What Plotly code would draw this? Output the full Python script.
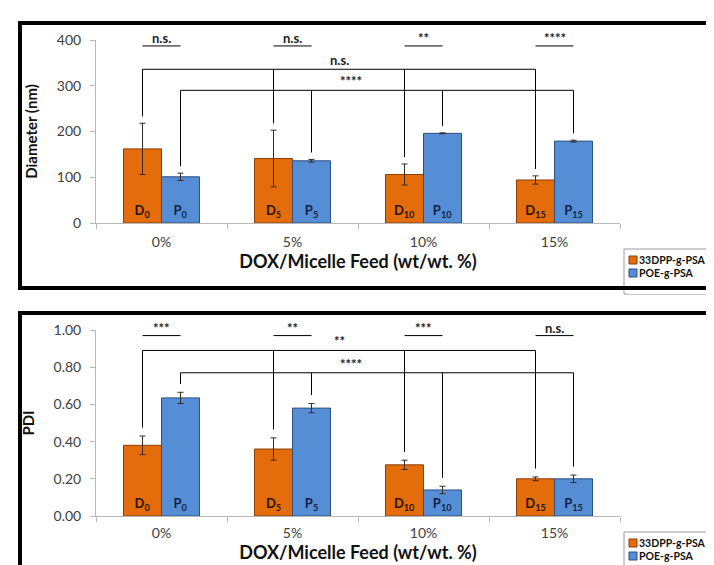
import plotly.graph_objects as go

# ---------------- data ----------------
categories = ["0%", "5%", "10%", "15%"]
series_names = ["33DPP-g-PSA", "POE-g-PSA"]
label_subs = ["0", "5", "10", "15"]

diam_d = [162, 141, 106, 94]
diam_d_err = [56, 62, 23, 9]
diam_p = [101, 136, 196, 179]
diam_p_err = [8, 3, 1, 2]

pdi_d = [0.38, 0.36, 0.275, 0.20]
pdi_d_err = [0.05, 0.06, 0.025, 0.01]
pdi_p = [0.635, 0.58, 0.14, 0.20]
pdi_p_err = [0.03, 0.025, 0.02, 0.02]

diam_pair_sig = ["n.s.", "n.s.", "**", "****"]
diam_group_sig = ["n.s.", "****"]      # D-bracket, P-bracket
pdi_pair_sig = ["***", "**", "***", "n.s."]
pdi_group_sig = ["**", "****"]

# bracket heights (data units): pair line, D bracket, P bracket, drop gap
diam_levels = [387, 336, 290, 15]
pdi_levels = [0.97, 0.89, 0.77, 0.045]

# ---------------- style ----------------
W, H = 714, 565
ORANGE, BLUE = "#E46C0A", "#558ED5"
ORANGE_LINE, BLUE_LINE = "#8a3f06", "#2f4f7f"
FONT = "Lato"
BARGAP = 0.42
OFF = (1 - BARGAP) / 4

fig = go.Figure()


def px_x(v):
    return v / W


def px_y(v):
    return 1 - v / H


def add_panel(d, de, p, pe, xa, ya, pair_sig, group_sig, levels):
    for vals, errs, name, col, lcol, letter, tcol in [
        (d, de, series_names[0], ORANGE, ORANGE_LINE, "D", "#2a1400"),
        (p, pe, series_names[1], BLUE, BLUE_LINE, "P", "#0f2347"),
    ]:
        fig.add_trace(go.Bar(
            x=categories, y=vals, name=name, showlegend=False,
            xaxis=xa, yaxis=ya,
            marker=dict(color=col, line=dict(color=lcol, width=1)),
            error_y=dict(type="data", array=errs, visible=True,
                         color="#3a2a20", thickness=1, width=3),
            text=["<b>%s<sub>%s</sub></b>" % (letter, s) for s in label_subs],
            textposition="inside", insidetextanchor="start",
            textfont=dict(family=FONT, size=13, color=tcol),
            constraintext="none", cliponaxis=False,
        ))
    xr, yr = xa, ya
    pair_y, dy, py, gap = levels
    line = dict(color="black", width=1)
    # per-category pair lines
    for i, s in enumerate(pair_sig):
        fig.add_shape(type="line", xref=xr, yref=yr, x0=i - OFF, x1=i + OFF,
                      y0=pair_y, y1=pair_y, line=line)
        fig.add_annotation(xref=xr, yref=yr, x=i, y=pair_y, text="<b>%s</b>" % s,
                           showarrow=False, yanchor="bottom", yshift=-2,
                           font=dict(family=FONT, size=13, color="#222"))
    # group brackets
    d_mid = None
    for k, (vals, errs, sign, lvl) in enumerate([(d, de, -1, dy), (p, pe, 1, py)]):
        xs = [i + sign * OFF for i in range(len(categories))]
        fig.add_shape(type="line", xref=xr, yref=yr, x0=xs[0], x1=xs[-1],
                      y0=lvl, y1=lvl, line=line)
        for x, v, e in zip(xs, vals, errs):
            fig.add_shape(type="line", xref=xr, yref=yr, x0=x, x1=x,
                          y0=v + e + gap, y1=lvl, line=line)
        if k == 0:
            d_mid = (xs[0] + xs[-1]) / 2
            tx = d_mid
        else:
            tx = d_mid + 0.09
        fig.add_annotation(xref=xr, yref=yr, x=tx, y=lvl, text="<b>%s</b>" % group_sig[k],
                           showarrow=False, yanchor="bottom", yshift=-1,
                           font=dict(family=FONT, size=13, color="#222"))


add_panel(diam_d, diam_d_err, diam_p, diam_p_err, "x", "y",
          diam_pair_sig, diam_group_sig, diam_levels)
add_panel(pdi_d, pdi_d_err, pdi_p, pdi_p_err, "x2", "y2",
          pdi_pair_sig, pdi_group_sig, pdi_levels)

xdom = [px_x(88), px_x(612)]
axis_common = dict(showgrid=False, zeroline=False, showline=True, linecolor="#b8b8b8",
                   linewidth=1, ticks="outside", tickcolor="#b8b8b8", ticklen=5,
                   tickfont=dict(family=FONT, size=14, color="#404040"))
xtitle = dict(text="<b>DOX/Micelle Feed (wt/wt. %)</b>", font=dict(family=FONT, size=18, color="#111"),
              standoff=4)

fig.update_layout(
    width=W, height=H, margin=dict(l=0, r=0, t=0, b=0, autoexpand=False),
    paper_bgcolor="white", plot_bgcolor="white",
    barmode="group", bargap=BARGAP, bargroupgap=0,
    font=dict(family=FONT),
    xaxis=dict(domain=xdom, anchor="y", tickson="boundaries", title=xtitle,
               ticklabelstandoff=6, **axis_common),
    yaxis=dict(domain=[px_y(215), px_y(32)], anchor="x", range=[0, 400],
               tickvals=[0, 100, 200, 300, 400], ticklabelstandoff=6,
               title=dict(text="<b>Diameter (nm)</b>", font=dict(family=FONT, size=15, color="#111"),
                          standoff=15), **axis_common),
    xaxis2=dict(domain=xdom, anchor="y2", tickson="boundaries", title=xtitle,
                ticklabelstandoff=4, **axis_common),
    yaxis2=dict(domain=[px_y(508), px_y(322)], anchor="x2", range=[0, 1.0],
                tickvals=[0, 0.2, 0.4, 0.6, 0.8, 1.0], tickformat=".2f", ticklabelstandoff=6,
                title=dict(text="<b>PDI</b>", font=dict(family=FONT, size=15, color="#111"),
                           standoff=15), **axis_common),
    showlegend=False,
)


# manual legends (boxes + swatches + real text), one per panel
def add_legend(top_px):
    fig.add_shape(type="rect", xref="paper", yref="paper", x0=px_x(616), x1=1.05,
                  y0=px_y(top_px + 45), y1=px_y(top_px), line=dict(color="#9a9a9a", width=1),
                  fillcolor="white", layer="above")
    for j, (name, col, lcol) in enumerate([(series_names[0], ORANGE, ORANGE_LINE),
                                           (series_names[1], BLUE, BLUE_LINE)]):
        cy = top_px + 11 + 13 * j
        fig.add_shape(type="rect", xref="paper", yref="paper", x0=px_x(621), x1=px_x(629),
                      y0=px_y(cy + 4), y1=px_y(cy - 4), fillcolor=col,
                      line=dict(color=lcol, width=1), layer="above")
        fig.add_annotation(xref="paper", yref="paper", x=px_x(630), y=px_y(cy),
                           xanchor="left", yanchor="middle", showarrow=False,
                           text="<b>%s</b>" % name, borderpad=0,
                           font=dict(family=FONT, size=10.5, color="#111"))


add_legend(241)
add_legend(524)

# panel frames
fig.add_shape(type="rect", xref="paper", yref="paper", x0=px_x(12), x1=1.02,
              y0=px_y(280), y1=px_y(15), line=dict(color="black", width=4), layer="above")
fig.add_shape(type="rect", xref="paper", yref="paper", x0=px_x(12), x1=1.02,
              y0=-0.05, y1=px_y(305), line=dict(color="black", width=4), layer="above")
fig.add_shape(type="rect", xref="paper", yref="paper", x0=px_x(620), x1=1.02,
              y0=px_y(286), y1=px_y(282), line=dict(width=0), fillcolor="white", layer="above")

fig.write_html("out.html")
